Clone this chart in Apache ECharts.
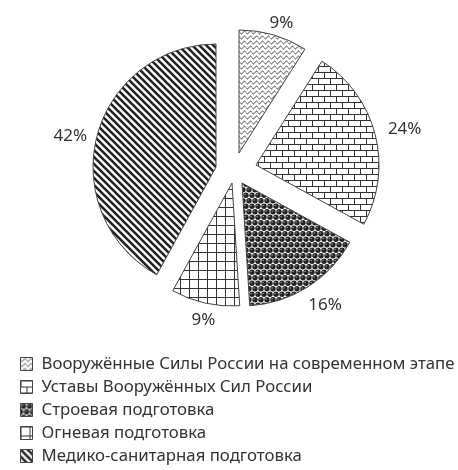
<!DOCTYPE html>
<html><head><meta charset="utf-8">
<script src="https://cdn.jsdelivr.net/npm/echarts@6/dist/echarts.min.js"></script>
<style>html,body{margin:0;padding:0;background:#fff}#c{width:458px;height:470px}</style>
</head><body><div id="c"></div>
<script>
// ---- data ----
const categories = [
  'Вооружённые Силы России на современном этапе',
  'Уставы Вооружённых Сил России',
  'Строевая подготовка',
  'Огневая подготовка',
  'Медико-санитарная подготовка'
];
const values = [9, 24, 16, 9, 42];

// ---- layout / style (not data) ----
const sliceCenters = [[239,153],[256,165],[242,183],[232,183],[216,167]];
const labelShift = [[-11,-4],[0,-3],[-9,12],[17,9],[3,2]];
const RADIUS = 123;
const FONT = 'Noto Sans';

function mk(w,h,draw){
  const c=document.createElement('canvas');c.width=w;c.height=h;
  const g=c.getContext('2d');g.fillStyle='#fff';g.fillRect(0,0,w,h);draw(g);return c;
}
const wave = mk(6,5,g=>{g.strokeStyle='#333';g.lineWidth=1;g.beginPath();
  for(let x=0;x<=6.01;x+=0.25){const y=2.5+1.4*Math.sin(x/6*2*Math.PI);if(x===0)g.moveTo(x,y);else g.lineTo(x,y);}g.stroke();});
const brick = mk(12,12,g=>{g.strokeStyle='#333';g.lineWidth=1;g.beginPath();
  g.moveTo(0,0.5);g.lineTo(12,0.5);g.moveTo(0,6.5);g.lineTo(12,6.5);
  g.moveTo(0.5,0);g.lineTo(0.5,6.5);g.moveTo(6.5,6.5);g.lineTo(6.5,12);g.stroke();});
const balls = mk(6,11,g=>{
  g.fillStyle='#fff';g.fillRect(0,0,6,11);
  const pts=[[3,2.75],[0,8.25],[6,8.25],[0,-2.75],[6,-2.75],[3,13.75]];
  pts.forEach(p=>{g.beginPath();g.arc(p[0],p[1],2.7,0,Math.PI*2);g.fillStyle='#222';g.fill();
    g.beginPath();g.arc(p[0]-0.8,p[1]-0.8,0.8,0,Math.PI*2);g.fillStyle='#999';g.fill();});
});
const grid = mk(9,9,g=>{g.strokeStyle='#333';g.lineWidth=1;g.beginPath();
  g.moveTo(0,0.5);g.lineTo(9,0.5);g.moveTo(0.5,0);g.lineTo(0.5,9);g.stroke();});
const diag = mk(7,7,g=>{g.strokeStyle='#222';g.lineWidth=2.6;g.beginPath();
  g.moveTo(-1,-1);g.lineTo(8,8);g.moveTo(-8,-1);g.lineTo(1,8);g.moveTo(-1,-8);g.lineTo(8,1);g.stroke();});
const patterns = [wave,brick,balls,grid,diag].map(c=>({image:c,repeat:'repeat'}));

const series = values.map((v,i)=>({
  type:'pie', center: sliceCenters[i], radius: RADIUS, startAngle: 90, clockwise: true,
  avoidLabelOverlap:false, silent:true, animation:false,
  label:{show:false}, labelLine:{show:false,length:8,length2:0},
  labelLayout: function(p){ return p.dataIndex===i ? {dx:labelShift[i][0], dy:labelShift[i][1]} : {}; },
  data: values.map((val,j)=>({
    name: categories[j], value: val,
    itemStyle: j===i ? {color: patterns[j], borderColor:'#444', borderWidth:1}
                     : {color:'rgba(0,0,0,0)', borderWidth:0},
    label: j===i ? {show:true, position:'outside', formatter:'{c}%', fontSize:17, color:'#333',
                    fontFamily:FONT, distanceToLabelLine:5} : {show:false},
    labelLine:{show:false,length:8,length2:0}
  }))
}));

const chart = echarts.init(document.getElementById('c'), null, {renderer:'canvas'});
chart.setOption({
  backgroundColor:'#fff',
  animation:false,
  legend:{
    orient:'vertical', left:20, top:355, padding:0, itemWidth:12, itemHeight:13, itemGap:5,
    selectedMode:false, icon:'rect',
    textStyle:{fontSize:16.8, color:'#333', fontFamily:FONT, lineHeight:18, padding:[0,0,0,4]},
    data: categories.map((n,j)=>({name:n, itemStyle:{color:patterns[j], borderColor:'#444', borderWidth:1}}))
  },
  series: series
});
</script></body></html>
